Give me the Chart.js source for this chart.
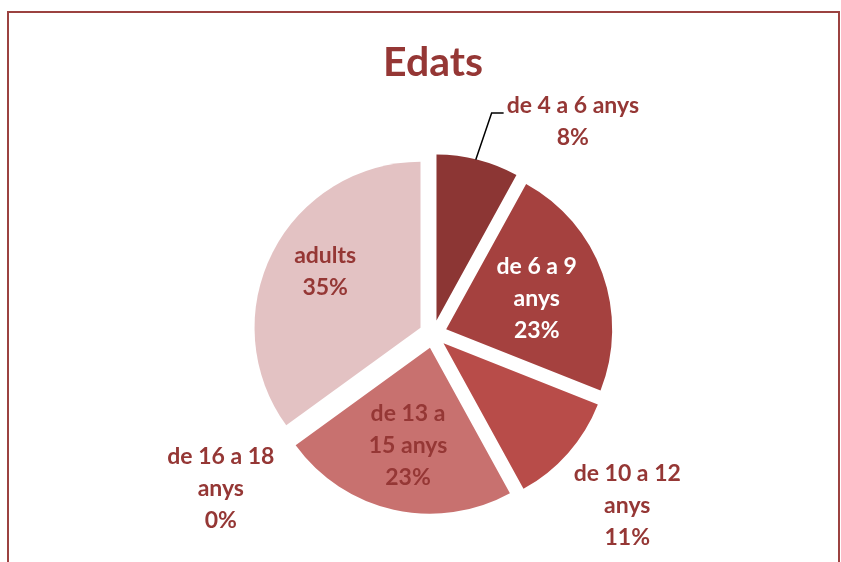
<!DOCTYPE html>
<html>
<head>
<meta charset="utf-8">
<script src="https://cdn.jsdelivr.net/npm/chart.js@4/dist/chart.umd.min.js"></script>
<style>
  html, body { margin: 0; padding: 0; background: #fff; overflow: hidden; }
  #wrap { position: relative; width: 841px; height: 562px; }
  #frame { position: absolute; left: 7px; top: 11px; width: 829px; height: 600px; border: 2px solid #9b4240; }
  #c { position: absolute; left: 0; top: 0; }
</style>
</head>
<body>
<div id="wrap">
  <div id="frame"></div>
  <canvas id="c" width="841" height="562"></canvas>
</div>
<script>
// dades del gràfic "Edats" (percentatges)
const categories = ["de 4 a 6 anys", "de 6 a 9 anys", "de 10 a 12 anys", "de 13 a 15 anys", "de 16 a 18 anys", "adults"];
const values = [8, 23, 11, 23, 0, 35];
const sliceColors = ["#8c3634", "#a5413f", "#b84c49", "#c8716f", "#d99694", "#e3c2c3"];

const TXT = "#953735";
const FONT = "bold 23px Lato";
const LINE_H = 32;
const RADIUS = 166;
const EXPLODE = 14;

// on va cada etiqueta: distància (x radi) des del centre, gir extra (graus), amplada de tall, color
const labelPos = [
  { r: 1.53, turn: 19, wrap: 200, color: TXT, leader: true },
  { r: 0.66, turn: 1, wrap: 95, color: "#ffffff" },
  { r: 1.56, turn: 0, wrap: 120, color: TXT },
  { r: 0.69, turn: 0, wrap: 95, color: TXT },
  { r: 1.58, turn: 0, wrap: 120, color: TXT },
  { r: 0.75, turn: 3, wrap: 95, color: TXT },
];

function wrapWords(ctx, text, maxW) {
  const words = text.split(" ");
  const lines = [];
  let cur = "";
  for (const w of words) {
    const t = cur ? cur + " " + w : w;
    if (cur && ctx.measureText(t).width > maxW) { lines.push(cur); cur = w; }
    else cur = t;
  }
  if (cur) lines.push(cur);
  return lines;
}

// separa cada porció cap enfora, com al full de càlcul
const explode = {
  id: "explode",
  afterDatasetsUpdate(chart) {
    const a = chart.chartArea;
    const cx = (a.left + a.right) / 2, cy = (a.top + a.bottom) / 2;
    chart.getDatasetMeta(0).data.forEach((arc) => {
      const mid = (arc.startAngle + arc.endAngle) / 2;
      arc.x = cx + Math.cos(mid) * EXPLODE;
      arc.y = cy + Math.sin(mid) * EXPLODE;
    });
  },
};

const sliceLabels = {
  id: "sliceLabels",
  afterDatasetsDraw(chart) {
    const ctx = chart.ctx;
    const a = chart.chartArea;
    const cx = (a.left + a.right) / 2, cy = (a.top + a.bottom) / 2;
    const arcs = chart.getDatasetMeta(0).data;
    ctx.save();
    ctx.font = FONT;
    ctx.textAlign = "center";
    ctx.textBaseline = "middle";
    arcs.forEach((arc, i) => {
      const p = labelPos[i];
      const mid = (arc.startAngle + arc.endAngle) / 2;
      const ang = mid + (p.turn * Math.PI) / 180;
      const x = cx + Math.cos(ang) * RADIUS * p.r;
      const y = cy + Math.sin(ang) * RADIUS * p.r;
      const lines = wrapWords(ctx, categories[i], p.wrap).concat([values[i] + "%"]);
      const top = y - ((lines.length - 1) * LINE_H) / 2;
      ctx.fillStyle = p.color;
      lines.forEach((ln, k) => ctx.fillText(ln, x, top + k * LINE_H));
      if (p.leader) {
        const w0 = ctx.measureText(lines[0]).width;
        const ex = cx + Math.cos(mid) * (RADIUS + EXPLODE);
        const ey = cy + Math.sin(mid) * (RADIUS + EXPLODE);
        const lx = x - w0 / 2 - 3;
        const ly = top + 7;
        ctx.strokeStyle = "#000";
        ctx.lineWidth = 1.5;
        ctx.beginPath();
        ctx.moveTo(ex - 2, ey);
        ctx.lineTo(lx - 12, ly);
        ctx.lineTo(lx, ly);
        ctx.stroke();
      }
    });
    ctx.restore();
  },
};

new Chart(document.getElementById("c"), {
  type: "pie",
  data: {
    labels: categories,
    datasets: [{ data: values, backgroundColor: sliceColors, borderWidth: 0 }],
  },
  options: {
    responsive: false,
    animation: false,
    radius: RADIUS,
    layout: { padding: { left: 25, right: 0, top: 0, bottom: 0 } },
    plugins: {
      legend: { display: false },
      tooltip: { enabled: false },
      title: {
        display: true,
        text: "Edats",
        color: TXT,
        font: { family: "Lato", size: 41, weight: "bold", lineHeight: 1.2 },
        padding: { top: 38, bottom: 19 },
      },
    },
  },
  plugins: [explode, sliceLabels],
});
</script>
</body>
</html>
